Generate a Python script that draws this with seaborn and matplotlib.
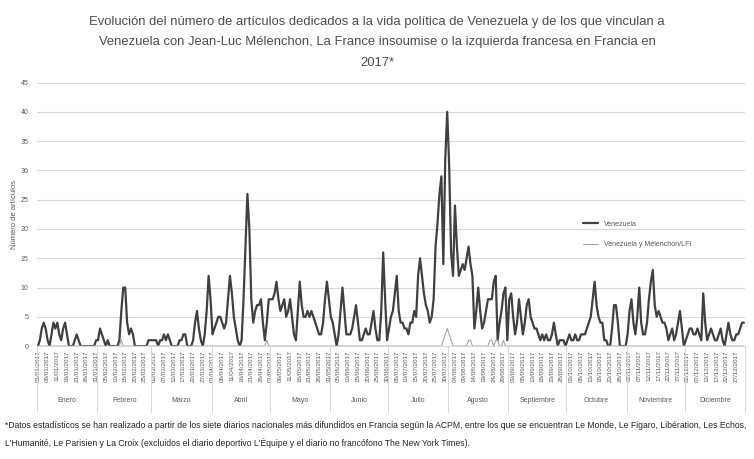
import numpy as np
import pandas as pd
import seaborn as sns
import matplotlib.pyplot as plt
from matplotlib import transforms

# Artículos diarios sobre Venezuela (2017), mes a mes
ene = [0, 1, 3, 4, 3, 1, 0, 2, 4, 3, 4, 2, 1, 3, 4, 2, 0, 0, 0, 1, 2, 1, 0, 0, 0, 0, 0, 0, 0, 0, 1]
feb = [1, 3, 2, 1, 0, 1, 0, 0, 0, 0, 0, 1, 6, 10, 10, 4, 2, 3, 2, 0, 0, 0, 0, 0, 0, 0, 1, 1]
mar = [1, 1, 1, 0, 1, 1, 2, 1, 2, 1, 0, 0, 0, 0, 1, 1, 2, 2, 0, 0, 0, 1, 4, 6, 3, 1, 0, 2, 6, 12, 8]
abr = [2, 3, 4, 5, 5, 4, 3, 4, 8, 12, 9, 5, 3, 1, 0, 1, 8, 17, 26, 20, 8, 4, 6, 7, 7, 8, 4, 1, 4, 8]
may = [8, 8, 9, 11, 8, 6, 7, 8, 5, 6, 8, 5, 2, 1, 6, 11, 7, 5, 5, 6, 5, 6, 5, 4, 3, 2, 2, 4, 8, 11, 8]
jun = [5, 4, 2, 0, 2, 6, 10, 6, 2, 2, 2, 3, 5, 7, 4, 1, 1, 2, 3, 2, 2, 4, 6, 3, 1, 1, 6, 16, 8, 1]
jul = [3, 5, 6, 9, 12, 6, 4, 4, 3, 3, 2, 4, 4, 6, 5, 12, 15, 12, 9, 7, 6, 4, 5, 8, 17, 21, 26, 29, 14, 32, 40]
ago = [31, 16, 12, 24, 17, 12, 13, 14, 13, 15, 17, 14, 12, 3, 6, 10, 6, 3, 4, 6, 8, 8, 8, 11, 12, 1, 4, 6, 9, 10, 1]
sep = [8, 9, 5, 2, 4, 8, 5, 2, 4, 7, 8, 5, 4, 3, 3, 2, 1, 2, 1, 2, 1, 1, 2, 4, 2, 0, 1, 1, 1, 0]
octu = [1, 2, 1, 1, 2, 1, 1, 2, 2, 2, 3, 4, 5, 8, 11, 7, 5, 4, 4, 1, 1, 0, 0, 3, 7, 7, 4, 0, 0, 0, 0]
nov = [2, 6, 8, 4, 2, 5, 10, 4, 2, 2, 4, 8, 11, 13, 7, 5, 6, 5, 4, 4, 3, 1, 2, 3, 1, 2, 4, 6, 3, 0]
dic = [1, 2, 3, 3, 2, 2, 3, 2, 1, 9, 4, 1, 2, 3, 2, 1, 1, 2, 3, 1, 0, 2, 4, 2, 1, 1, 2, 2, 3, 4, 4]

# Venezuela y Mélenchon/LFI: días (índice desde el 1 de enero) con artículos
lfi_dias = [43, 118, 209, 210, 211, 212, 213, 222, 223, 233, 234, 236, 237, 240]
lfi_valores = [1, 1, 1, 2, 3, 2, 1, 1, 1, 1, 1, 1, 1, 1]

meses = ["Enero", "Febrero", "Marzo", "Abril", "Mayo", "Junio", "Julio",
         "Agosto", "Septiembre", "Octubre", "Noviembre", "Diciembre"]

venezuela = ene + feb + mar + abr + may + jun + jul + ago + sep + octu + nov + dic
fechas = pd.date_range("2017-01-01", "2017-12-31", freq="D")
lfi = np.zeros(len(fechas))
lfi[lfi_dias] = lfi_valores

df = pd.DataFrame({"dia": np.arange(len(fechas)), "Venezuela": venezuela,
                   "Venezuela y Mélenchon/LFI": lfi})

sns.set_style("white")
plt.rcParams["font.family"] = ["Liberation Sans", "DejaVu Sans"]
gris = "#595959"

fig, ax = plt.subplots(figsize=(7.54, 4.59), dpi=100)
fig.subplots_adjust(left=0.049, right=0.988, bottom=0.246, top=0.82)

sns.lineplot(data=df, x="dia", y="Venezuela", color="#404040", linewidth=1.6,
             label="Venezuela", ax=ax)
sns.lineplot(data=df, x="dia", y="Venezuela y Mélenchon/LFI", color="#a6a6a6",
             linewidth=0.8, label="Venezuela y Mélenchon/LFI", ax=ax)

ax.set_xlim(-0.5, len(fechas) - 0.5)
ax.set_ylim(0, 45)
ax.set_yticks(range(0, 50, 5))
ax.yaxis.grid(True, color="#d9d9d9", linewidth=0.8)
ax.set_axisbelow(True)
for s in ["top", "right", "left"]:
    ax.spines[s].set_visible(False)
ax.spines["bottom"].set_color("#d9d9d9")

ax.set_xticks(df["dia"][::5])
ax.set_xticklabels(fechas[::5].strftime("%d/%m/%Y"), rotation=90, fontsize=4.5, color=gris)
ax.tick_params(axis="x", length=0, pad=3)
ax.tick_params(axis="y", length=0, labelsize=5, labelcolor=gris, pad=6)
ax.set_xlabel("")
ax.set_ylabel("Número de artículos", fontsize=5.5, color=gris, labelpad=2)

# eje de categorías con meses (estilo Excel)
trans = transforms.blended_transform_factory(ax.transData, ax.transAxes)
limites = np.concatenate([[0], np.cumsum([len(m) for m in [ene, feb, mar, abr, may, jun, jul,
                                                         ago, sep, octu, nov, dic]])]) - 0.5
for b in limites:
    ax.plot([b, b], [0, -0.25], transform=trans, color="#d9d9d9", lw=0.7, clip_on=False)
for i, m in enumerate(meses):
    ax.text((limites[i] + limites[i + 1]) / 2, -0.205, m, transform=trans,
            ha="center", va="center", fontsize=5, color=gris)

ax.legend(loc="upper left", bbox_to_anchor=(0.762, 0.50), frameon=False, fontsize=5,
          handlelength=2.2, labelspacing=2.0, labelcolor=gris)

titulo = ["Evolución del número de artículos dedicados a la vida política de Venezuela y de los que vinculan a",
          "Venezuela con Jean-Luc Mélenchon, La France insoumise o la izquierda francesa en Francia en",
          "2017*"]
for i, linea in enumerate(titulo):
    fig.text(0.5, 1 - (22 + 20.5 * i) / 459, linea, ha="center", va="center",
             fontsize=9.4, color="#4d4d4d")

nota = ["*Datos estadísticos se han realizado a partir de los siete diarios nacionales más difundidos en Francia según la ACPM, entre los que se encuentran Le Monde, Le Figaro, Libération, Les Echos,",
        "L'Humanité, Le Parisien y La Croix (excluidos el diario deportivo L'Équipe y el diario no francófono The New York Times)."]
for i, linea in enumerate(nota):
    fig.text(5 / 754, 1 - (425 + 18 * i) / 459, linea, ha="left", va="center",
             fontsize=6.2, color="#262626")

plt.savefig("out.png", dpi=100)
